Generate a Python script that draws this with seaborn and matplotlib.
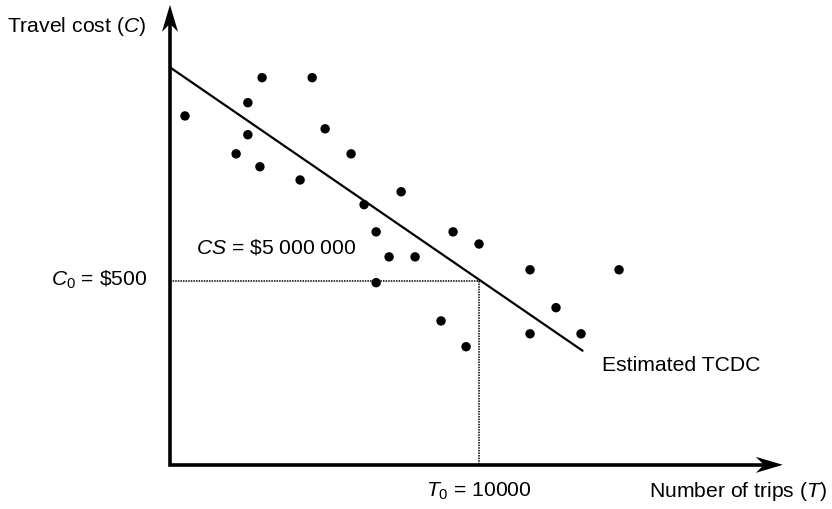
import numpy as np
import pandas as pd
import matplotlib
matplotlib.use("Agg")
import matplotlib.pyplot as plt
import seaborn as sns
from matplotlib.patches import Polygon
from matplotlib.transforms import ScaledTranslation

trips = [485, 2980, 4600, 2520, 2520, 2140, 2910, 5020, 5860, 4210, 6280, 6670,
         7090, 7480, 9160, 10000, 7930, 11650, 14530, 6670, 12490, 8770, 11650, 13300, 9580]
cost = [948, 1052, 1052, 984, 897, 845, 810, 913, 845, 774, 707, 633,
        565, 742, 633, 600, 565, 530, 530, 495, 427, 391, 356, 356, 321]

# estimated TCDC end points
tcdc_trips = [0, 13350]
tcdc_cost = [1080, 310]

T0 = 10000
C0 = 500

sns.set_theme(style="white")
plt.rcParams['font.family'] = ['Liberation Sans', 'DejaVu Sans']
plt.rcParams['mathtext.fontset'] = 'custom'
plt.rcParams['mathtext.rm'] = 'Liberation Sans'
plt.rcParams['mathtext.it'] = 'Liberation Sans:italic'
plt.rcParams['text.color'] = 'black'

fig = plt.figure(figsize=(8.32, 5.09), dpi=100)
ax = fig.add_axes([0, 0, 1, 1])
ax.set_xlim(-5500, 21420)
ax.set_ylim(-120, 1263)
ax.axis('off')

df = pd.DataFrame({'T': trips, 'C': cost})
sns.scatterplot(data=df, x='T', y='C', color='black', s=46, edgecolor='none', ax=ax, zorder=4)

line_df = pd.DataFrame({'T': tcdc_trips, 'C': tcdc_cost})
sns.lineplot(data=line_df, x='T', y='C', color='black', lw=1.6, ax=ax, zorder=3)

# dotted guides to C0 and T0
ax.plot([0, T0], [C0, C0], color='black', lw=1.1, ls=(0, (1, 0.7)), zorder=2)
ax.plot([T0, T0], [C0, 0], color='black', lw=1.1, ls=(0, (1, 0.7)), zorder=2)

# axes: lines plus stealth arrow heads (head drawn in pixel units at the tip)
x_tip, y_tip = 19830, 1250
ax.plot([0, 0, x_tip - 600], [y_tip - 50, 0, 0], color='black', lw=2.6,
        solid_joinstyle='miter', solid_capstyle='butt', zorder=5)
head = np.array([[0, 0], [-27, 8], [-19, 0], [-27, -8]]) / 100.0
for (tx, ty), vertical in [((x_tip, 0), False), ((0, y_tip), True)]:
    verts = head[:, ::-1] if vertical else head
    tr = fig.dpi_scale_trans + ScaledTranslation(tx, ty, ax.transData)
    ax.add_patch(Polygon(verts, closed=True, facecolor='black', edgecolor='none',
                         transform=tr, zorder=6))

fs = 15.2
ax.text(-5275, 1190, 'Travel cost ($C$)', fontsize=fs, ha='left', va='center')
ax.text(-744, 503, '$C_0$ = \\$500', fontsize=fs, ha='right', va='center')
ax.text(841, 590, '$CS$ = \\$5 000 000', fontsize=fs, ha='left', va='center')
ax.text(13980, 269, 'Estimated TCDC', fontsize=fs, ha='left', va='center')
ax.text(T0, -73, '$T_0$ = 10000', fontsize=fs, ha='center', va='center')
ax.text(21260, -73, 'Number of trips ($T$)', fontsize=fs, ha='right', va='center')

fig.savefig('out.png', dpi=100)
